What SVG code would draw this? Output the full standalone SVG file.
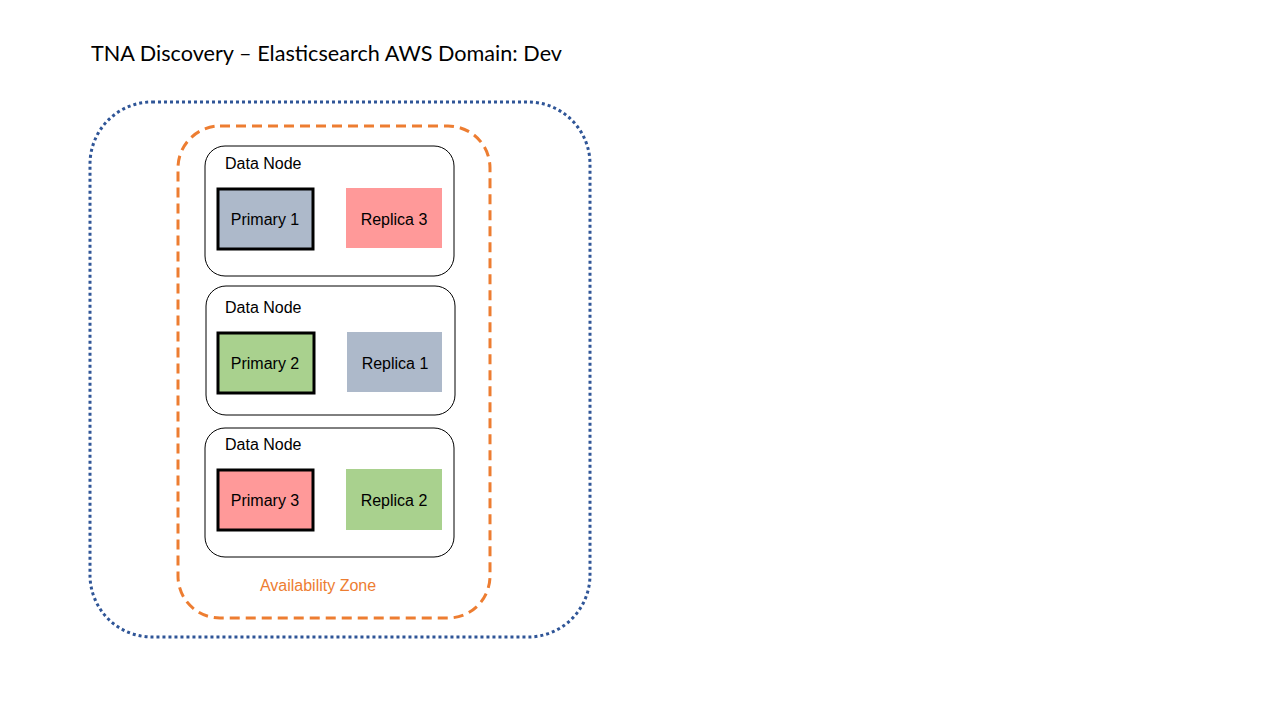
<svg xmlns="http://www.w3.org/2000/svg" width="1280" height="720" viewBox="0 0 1280 720">
<style>
.title{font-family:"Lato","Open Sans",sans-serif;font-size:22px;fill:#000}
.node{fill:#fff;stroke:#000;stroke-width:1}
.dn{font-family:"Liberation Sans",Arial,sans-serif;font-size:16px;fill:#000}
.lbl{font-family:"Liberation Sans",Arial,sans-serif;font-size:16px;fill:#000;text-anchor:middle}
.prim{stroke:#000;stroke-width:3}
.blue{fill:#ADB9CA}.red{fill:#FF9999}.green{fill:#A9D18E}
</style>
<rect width="1280" height="720" fill="#fff"/>
<text class="title" x="91" y="61" textLength="471" lengthAdjust="spacingAndGlyphs">TNA Discovery – Elasticsearch AWS Domain: Dev</text>
<g id="domain">
<rect x="90" y="102" width="500" height="535" rx="62" fill="none" stroke="#2F5597" stroke-width="3" stroke-dasharray="3 3"/>
</g>
<g id="az">
<rect x="178" y="126" width="312" height="492" rx="42" fill="none" stroke="#ED7D31" stroke-width="3" stroke-dasharray="10 6"/>
<text x="318" y="591" font-family="Liberation Sans, Arial, sans-serif" font-size="16" fill="#ED7D31" text-anchor="middle">Availability Zone</text>
</g>
<g id="node1">
<rect class="node" x="205" y="146" width="249" height="130" rx="20"/>
<text class="dn" x="225" y="169">Data Node</text>
<rect class="prim blue" x="218" y="189" width="95" height="60"/>
<text class="lbl" x="265" y="225">Primary 1</text>
<rect class="red" x="346" y="188" width="96" height="60"/>
<text class="lbl" x="394" y="225">Replica 3</text>
</g>
<g id="node2">
<rect class="node" x="206" y="286" width="249" height="129" rx="20"/>
<text class="dn" x="225" y="313">Data Node</text>
<rect class="prim green" x="218" y="333" width="96" height="60"/>
<text class="lbl" x="265" y="369">Primary 2</text>
<rect class="blue" x="347" y="332" width="95" height="60"/>
<text class="lbl" x="395" y="369">Replica 1</text>
</g>
<g id="node3">
<rect class="node" x="205" y="428" width="249" height="129" rx="20"/>
<text class="dn" x="225" y="450">Data Node</text>
<rect class="prim red" x="218" y="470" width="95" height="60"/>
<text class="lbl" x="265" y="506">Primary 3</text>
<rect class="green" x="346" y="469" width="96" height="61"/>
<text class="lbl" x="394" y="506">Replica 2</text>
</g>
<g id="connectors"></g>
</svg>
